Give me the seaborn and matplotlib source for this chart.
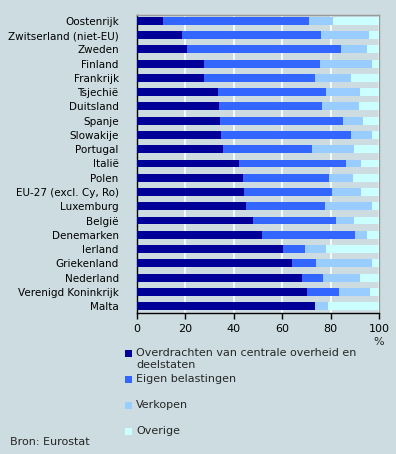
import numpy as np
import pandas as pd
import seaborn as sns
import matplotlib
matplotlib.use("Agg")
import matplotlib.pyplot as plt
from matplotlib.patches import Rectangle

countries = ["Oostenrijk", "Zwitserland (niet-EU)", "Zweden", "Finland", "Frankrijk",
             "Tsjechië", "Duitsland", "Spanje", "Slowakije", "Portugal", "Italië",
             "Polen", "EU-27 (excl. Cy, Ro)", "Luxemburg", "België", "Denemarken",
             "Ierland", "Griekenland", "Nederland", "Verenigd Koninkrijk", "Malta"]
overdrachten = [10.9, 18.7, 20.8, 27.8, 27.8, 33.6, 34.0, 34.4, 34.8, 35.6, 42.2,
                43.9, 44.3, 45.1, 48.0, 51.7, 60.4, 64.1, 68.2, 70.3, 73.6]
eigen = [60.2, 57.4, 63.5, 47.9, 45.8, 44.5, 42.5, 50.7, 53.6, 36.8, 44.2,
         35.5, 36.3, 32.6, 34.3, 38.4, 9.1, 9.9, 8.7, 13.2, 0.0]
verkopen = [9.8, 19.8, 10.7, 21.4, 14.8, 14.1, 15.2, 8.3, 8.7, 17.3, 6.2,
            9.9, 12.0, 19.4, 7.4, 4.9, 8.6, 23.1, 15.3, 12.8, 5.4]
overige = [19.1, 4.1, 5.0, 2.9, 11.6, 7.8, 8.3, 6.6, 2.9, 10.3, 7.4,
           10.7, 7.4, 2.9, 10.3, 5.0, 21.9, 2.9, 7.8, 3.7, 21.0]
series_names = ["Overdrachten van centrale overheid en\ndeelstaten", "Eigen belastingen",
                "Verkopen", "Overige"]
colors = ["#000099", "#3366FF", "#99CCFF", "#CCFFFF"]
bg = "#CCDCE1"

segs = np.array([overdrachten, eigen, verkopen, overige])
cum = np.cumsum(segs, axis=0)

sns.set_theme(style="white")
plt.rcParams['font.family'] = ['DejaVu Sans']

W, H = 396, 454
fig = plt.figure(figsize=(W/100, H/100), dpi=100, facecolor=bg)
ax = fig.add_axes([136.7/W, 1 - 313/H, (379 - 136.7)/W, (313 - 14.7)/H])
ax.set_facecolor(bg)

for i in range(3, -1, -1):
    df = pd.DataFrame({"land": countries, "waarde": cum[i]})
    sns.barplot(data=df, x="waarde", y="land", orient="h", color=colors[i],
                saturation=1, width=0.56, ax=ax, zorder=3, linewidth=0)

ax.set_xlim(0, 100)
ax.set_ylim(20.49, -0.44)
ax.set_xticks([0, 20, 40, 60, 80, 100])
ax.set_xlabel("")
ax.set_ylabel("")
ax.xaxis.grid(True, color="white", linewidth=1.2, zorder=0)
ax.yaxis.grid(False)
ax.set_axisbelow(True)
ax.tick_params(axis="x", bottom=True, length=4, width=1, color="black",
               labelsize=8, pad=4, labelcolor="black")
ax.tick_params(axis="y", left=False, labelsize=7.5, pad=7, labelcolor="black")
for s in ["left", "bottom"]:
    ax.spines[s].set_color("black")
    ax.spines[s].set_linewidth(1)
for s in ["top", "right"]:
    ax.spines[s].set_color("#999999")
    ax.spines[s].set_linewidth(1)
    ax.spines[s].set_visible(True)

fig.text(379/W, 1 - 342/H, "%", ha="center", va="center", fontsize=8)

# legend
ys = [353, 379, 405, 431]
for name, c, y in zip(series_names, colors, ys):
    fig.patches.append(Rectangle((125/W, 1 - (y + 3.5)/H), 7/W, 7/H,
                                 transform=fig.transFigure, facecolor=c,
                                 edgecolor="none"))
    fig.text(136/W, 1 - (y - 4.5)/H, name, ha="left", va="top", fontsize=8,
             linespacing=1.2)

fig.text(10/W, 1 - 442/H, "Bron: Eurostat", ha="left", va="center", fontsize=8)

fig.savefig("out.png", dpi=100, facecolor=bg)
